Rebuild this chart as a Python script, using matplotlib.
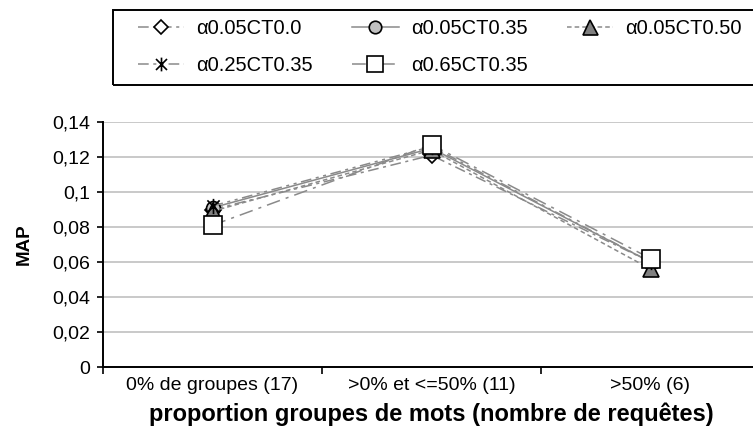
import matplotlib
matplotlib.use('Agg')
import matplotlib.pyplot as plt
from matplotlib.path import Path
from matplotlib.patches import Rectangle

plt.rcParams['font.family'] = ['Liberation Sans', 'DejaVu Sans']

categories = ['0% de groupes (17)', '>0% et <=50% (11)', '>50% (6)']
series_names = ['α0.05CT0.0', 'α0.05CT0.35', 'α0.05CT0.50',
                'α0.25CT0.35', 'α0.65CT0.35']
map_a005_ct00 = [0.090, 0.121, 0.060]
map_a005_ct035 = [0.091, 0.125, 0.060]
map_a005_ct050 = [0.089, 0.124, 0.056]
map_a025_ct035 = [0.092, 0.126, 0.060]
map_a065_ct035 = [0.081, 0.127, 0.062]
y_ticks = [0, 0.02, 0.04, 0.06, 0.08, 0.1, 0.12, 0.14]
y_tick_labels = ['0', '0,02', '0,04', '0,06', '0,08', '0,1', '0,12', '0,14']

# excel-like "star" marker: an X with a vertical bar
star = Path([(-1, -1), (1, 1), (-1, 1), (1, -1), (0, -1.25), (0, 1.25)],
            [Path.MOVETO, Path.LINETO, Path.MOVETO, Path.LINETO,
             Path.MOVETO, Path.LINETO])

line_color = '#8a8a8a'
styles = [
    dict(ls=(0, (7, 3, 2, 3)), marker='D', ms=8, mfc='white', mec='black'),
    dict(ls='-', marker='o', ms=10, mfc='#c0c0c0', mec='black'),
    dict(ls=(0, (3, 2)), marker='^', ms=12, mfc='#808080', mec='black'),
    dict(ls=(0, (7, 3, 2, 3, 2, 3)), marker=star, ms=11, mfc='none', mec='black'),
    dict(ls=(0, (9, 4, 2, 4)), marker='s', ms=13, mfc='white', mec='black'),
]
all_values = [map_a005_ct00, map_a005_ct035, map_a005_ct050,
              map_a025_ct035, map_a065_ct035]

fig = plt.figure(figsize=(7.53, 4.47), dpi=100)
ax = fig.add_axes([103 / 753, 1 - 367 / 447, 657 / 753, 245 / 447])

x = [i + 0.5 for i in range(len(categories))]
handles = []
for name, vals, st in zip(series_names, all_values, styles):
    h, = ax.plot(x, vals, color=line_color, lw=1.1, linestyle=st['ls'],
                 marker=st['marker'], markersize=st['ms'],
                 markerfacecolor=st['mfc'], markeredgecolor=st['mec'],
                 markeredgewidth=1.2, label=name, clip_on=False)
    handles.append(h)

ax.set_xlim(0, 3)
ax.set_ylim(0, 0.14)
ax.set_yticks(y_ticks)
ax.set_yticklabels(y_tick_labels, fontsize=14)
ax.set_xticks([0, 1, 2, 3])
ax.set_xticklabels([])
ax.set_xticks(x, minor=True)
ax.set_xticklabels(categories, minor=True, fontsize=14)
ax.tick_params(axis='x', which='minor', length=0, pad=7)
ax.tick_params(axis='x', which='major', direction='out', length=5, width=1.2)
ax.tick_params(axis='y', direction='out', length=4.5, width=1.2, pad=5)
ax.grid(axis='y', color='#c0c0c0', lw=1.2)
ax.set_axisbelow(True)
for side in ['top', 'right']:
    ax.spines[side].set_visible(False)
for side in ['left', 'bottom']:
    ax.spines[side].set_linewidth(1.4)

ax.set_ylabel('MAP', fontsize=13.5, fontweight='bold', labelpad=14)
ax.set_xlabel('proportion groupes de mots (nombre de requêtes)',
              fontsize=17, fontweight='bold', labelpad=6)

# legend frame drawn by hand so the entries can sit further in
fig.patches.append(Rectangle((113 / 753, 1 - 85 / 447), 660 / 753, 75 / 447,
                             transform=fig.transFigure, fill=False,
                             edgecolor='black', lw=1.4))
order = [0, 3, 1, 4, 2]
leg = fig.legend([handles[i] for i in order], [series_names[i] for i in order],
                 ncol=3, loc='upper left', bbox_to_anchor=(138 / 753, 1 - 19 / 447),
                 fontsize=14.5, frameon=False, markerscale=0.9,
                 handlelength=2.3, handletextpad=0.6, borderpad=0,
                 labelspacing=0.9, columnspacing=1.95, borderaxespad=0)

fig.savefig('out.png', dpi=100)
